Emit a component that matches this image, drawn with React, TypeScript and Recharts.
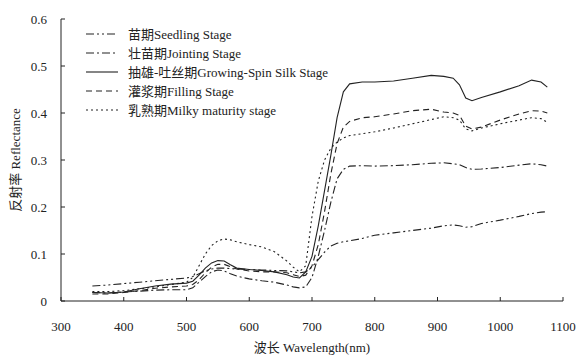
import React from 'react';
import { LineChart, Line, XAxis, YAxis, Legend } from 'recharts';

// wavelength (nm) sample points
const wavelengths = [
  350, 375, 400, 425, 450, 475, 500, 510, 520, 530, 540, 550, 560, 570, 580, 600, 620, 640, 660, 670,
  680, 690, 700, 710, 720, 730, 740, 750, 760, 780, 800, 830, 860, 890, 910, 925, 935, 945, 955, 970,
  1000, 1030, 1050, 1065, 1075,
];

const seedling = [
  0.032, 0.034, 0.037, 0.04, 0.043, 0.046, 0.049, 0.052, 0.058, 0.064, 0.068, 0.07, 0.07, 0.069, 0.068, 0.067, 0.066, 0.065, 0.064, 0.062,
  0.06, 0.062, 0.072, 0.088, 0.104, 0.117, 0.123, 0.126, 0.128, 0.133, 0.14, 0.145, 0.15, 0.155, 0.16, 0.162, 0.16, 0.157, 0.158, 0.165,
  0.172, 0.18, 0.186, 0.189, 0.19,
];

const jointing = [
  0.018, 0.017, 0.019, 0.021, 0.023, 0.024, 0.024, 0.028, 0.04, 0.052, 0.062, 0.066, 0.064, 0.058, 0.053, 0.047, 0.043, 0.04, 0.034, 0.03,
  0.028, 0.03, 0.05, 0.095, 0.15, 0.21, 0.26, 0.28, 0.287, 0.288, 0.287, 0.288, 0.29, 0.293, 0.294, 0.292, 0.29, 0.284, 0.28, 0.281,
  0.284, 0.289, 0.292, 0.29, 0.287,
];

const silking = [
  0.018, 0.017, 0.019, 0.026, 0.032, 0.036, 0.038, 0.042, 0.055, 0.07, 0.081, 0.086, 0.085, 0.077, 0.07, 0.067, 0.065, 0.062, 0.056, 0.051,
  0.049, 0.062, 0.095, 0.16, 0.235, 0.31, 0.39, 0.445, 0.462, 0.466, 0.466, 0.468, 0.474, 0.48, 0.478, 0.474, 0.46, 0.432, 0.426, 0.433,
  0.445, 0.458, 0.47, 0.466, 0.455,
];

const filling = [
  0.015, 0.015, 0.018, 0.022, 0.027, 0.03, 0.032, 0.035, 0.045, 0.06, 0.072, 0.078, 0.078, 0.073, 0.068, 0.064, 0.062, 0.062, 0.06, 0.056,
  0.052, 0.055, 0.075, 0.12, 0.19, 0.27, 0.335, 0.37, 0.382, 0.39, 0.392, 0.398, 0.405, 0.408, 0.402, 0.4, 0.395, 0.372, 0.366, 0.37,
  0.385, 0.398, 0.405, 0.404, 0.4,
];

const milky = [
  0.02, 0.02, 0.022, 0.026, 0.03, 0.035, 0.04, 0.05, 0.075, 0.1, 0.118, 0.128, 0.132, 0.13, 0.126, 0.12, 0.115, 0.105, 0.085, 0.072,
  0.062, 0.075, 0.18, 0.255, 0.3, 0.325, 0.338, 0.347, 0.352, 0.356, 0.36, 0.368, 0.377, 0.386, 0.392, 0.39, 0.385, 0.366, 0.362, 0.368,
  0.377, 0.385, 0.39, 0.388, 0.38,
];

const xTicks = [300, 400, 500, 600, 700, 800, 900, 1000, 1100];
const yTicks = [0, 0.1, 0.2, 0.3, 0.4, 0.5, 0.6];

const series = [
  { key: 'seedling', name: '苗期Seedling Stage', dash: '8 3 2 3 2 3' },
  { key: 'jointing', name: '壮苗期Jointing Stage', dash: '8 3 2 3' },
  { key: 'silking', name: '抽雄-吐丝期Growing-Spin Silk Stage', dash: undefined },
  { key: 'filling', name: '灌浆期Filling Stage', dash: '6 4' },
  { key: 'milky', name: '乳熟期Milky maturity stage', dash: '2 3' },
];

const data = wavelengths.map((w, i) => ({
  w,
  seedling: seedling[i],
  jointing: jointing[i],
  silking: silking[i],
  filling: filling[i],
  milky: milky[i],
}));

const FONT = "'Liberation Serif', 'DejaVu Serif', 'Noto Sans CJK SC', serif";
const INK = '#222';
const FS = 13;

const renderLegend = () => (
  <div style={{ fontFamily: FONT, fontSize: FS, color: INK }}>
    {series.map((s) => (
      <div key={s.key} style={{ display: 'flex', alignItems: 'center', height: 19 }}>
        <svg width={34} height={10} style={{ marginRight: 10 }}>
          <line x1={2} y1={5} x2={34} y2={5} stroke={INK} strokeWidth={1.1} strokeDasharray={s.dash} />
        </svg>
        <span>{s.name}</span>
      </div>
    ))}
  </div>
);

const App: React.FC = () => {
  return (
    <div style={{ position: 'absolute', left: 0, top: 0, width: 576, height: 361, background: '#fff', fontFamily: FONT }}>
      <LineChart width={576} height={361} data={data} margin={{ top: 19, right: 13, bottom: 0, left: 0 }}>
        <XAxis
          dataKey="w"
          type="number"
          domain={[300, 1100]}
          ticks={xTicks}
          height={60}
          tickSize={-4}
          tickMargin={25}
          stroke={INK}
          tick={{ fontSize: FS, fill: INK, fontFamily: FONT }}
          label={{
            value: '波长 Wavelength(nm)',
            position: 'insideBottom',
            offset: 9,
            style: { fontSize: FS, fill: INK, fontFamily: FONT },
          }}
        />
        <YAxis
          type="number"
          domain={[0, 0.6]}
          ticks={yTicks}
          width={61}
          tickSize={-4}
          tickMargin={18}
          stroke={INK}
          tickFormatter={(v: number) => (v === 0 ? '0' : v.toFixed(1))}
          tick={{ fontSize: FS, fill: INK, fontFamily: FONT }}
          label={{
            value: '反射率 Reflectance',
            angle: -90,
            position: 'insideLeft',
            offset: 15,
            style: { fontSize: FS, fill: INK, fontFamily: FONT, textAnchor: 'middle' },
          }}
        />
        <Legend
          layout="vertical"
          align="center"
          verticalAlign="middle"
          content={renderLegend}
          wrapperStyle={{ left: 84, top: 24, width: 320 }}
        />
        {series.map((s) => (
          <Line
            key={s.key}
            dataKey={s.key}
            name={s.name}
            type="linear"
            stroke={INK}
            strokeWidth={1.1}
            strokeDasharray={s.dash}
            dot={false}
            isAnimationActive={false}
          />
        ))}
      </LineChart>
    </div>
  );
};

export default App;
